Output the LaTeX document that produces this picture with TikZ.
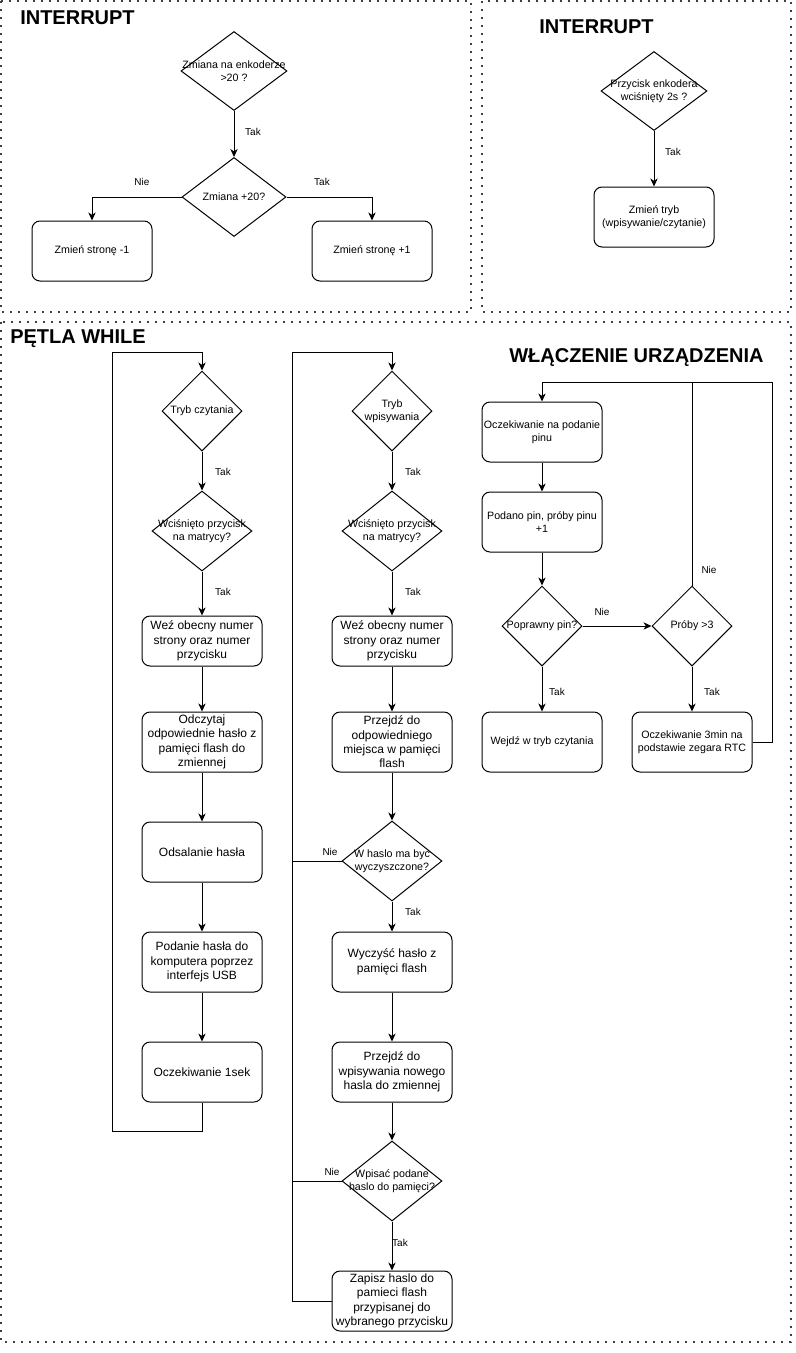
\documentclass[tikz,border=0pt]{standalone}
\usepackage{fontspec}
\setmainfont{Liberation Sans}
\usetikzlibrary{shapes.geometric,arrows.meta}
\newcommand\fsmall{\fontsize{8}{9.6}\selectfont}
\newcommand\fbig{\fontsize{9}{10.8}\selectfont}
\newcommand\flab{\fontsize{7.5}{9}\selectfont}
\newcommand\ftitle{\fontsize{15}{18}\selectfont\bfseries}
\begin{document}
\begin{tikzpicture}[x=0.75pt,y=-0.75pt,
  frame/.style={draw=black!75, line width=1.5pt, dash pattern=on 1.5pt off 4.5pt},
  box/.style={draw, line width=0.75pt, rounded corners=6pt, minimum width=90pt, minimum height=45pt, inner sep=0pt, align=center, font=\fsmall},
  bbox/.style={box, font=\fbig},
  dia/.style={draw, line width=0.75pt, diamond, inner sep=0pt},
  dtxt/.style={font=\fsmall, align=center, inner sep=0pt},
  lab/.style={font=\flab, inner sep=0pt},
  title/.style={font=\ftitle, inner sep=0pt, anchor=base west},
  arr/.style={line width=0.75pt, -{Stealth[length=6pt,width=5.5pt,inset=1.8pt]}},
  ln/.style={line width=0.75pt},
]
\useasboundingbox (0,0) rectangle (796,1353);

% frames
\draw[frame] (1,1) rectangle (471,312);
\draw[frame] (482,1) rectangle (791,312);
\draw[frame] (1,322) rectangle (791,1342);

% titles
\node[title] (t1) at (20,24) {INTERRUPT};
\node[title] (t2) at (539,33) {INTERRUPT};
\node[title] (t3) at (10,343) {PĘTLA WHILE};
\node[title] (t4) at (509,362) {WŁĄCZENIE URZĄDZENIA};

% ---- top-left interrupt
\node[dia, minimum width=79.5pt, minimum height=59.25pt] (d1) at (234,71) {};
\node[dtxt] (d1t) at (d1.center) {Zmiana na enkoderze\\>20 ?};
\node[dia, minimum width=78pt, minimum height=59.25pt] (d2) at (234,197) {};
\node[dtxt] (d2t) at (d2.center) {Zmiana +20?};
\node[box] (b1) at (92,251) {Zmień stronę -1};
\node[box] (b2) at (372,251) {Zmień stronę +1};
\draw[arr] (d1.south) -- (d2.north);
\draw[arr] (d2.west) -| (b1.north);
\draw[arr] (d2.east) -| (b2.north);
\node[lab] (l1) at (253,132) {Tak};
\node[lab] (l2) at (142,182) {Nie};
\node[lab] (l3) at (322,182) {Tak};

% ---- top-right interrupt
\node[dia, minimum width=79.5pt, minimum height=59.25pt] (d3) at (654,91) {};
\node[dtxt] (d3t) at (d3.center) {Przycisk enkodera\\wciśnięty 2s ?};
\node[box] (b3) at (654,217) {Zmień tryb\\(wpisywanie/czytanie)};
\draw[arr] (d3.south) -- (b3.north);
\node[lab] (l4) at (673,152) {Tak};

% ---- left column (reading mode)
\node[dia, minimum width=60pt, minimum height=60pt] (c1) at (202,411) {};
\node[dtxt] (c1t) at (c1.center) {Tryb czytania};
\node[dia, minimum width=75pt, minimum height=60pt] (c2) at (202,531) {};
\node[dtxt] (c2t) at (c2.center) {Wciśnięto przycisk\\na matrycy?};
\node[bbox, minimum height=37.5pt] (c3) at (202,641) {Weź obecny numer\\strony oraz numer\\przycisku};
\node[bbox] (c4) at (202,742) {Odczytaj\\odpowiednie hasło z\\pamięci flash do\\zmiennej};
\node[bbox] (c5) at (202,852) {Odsalanie hasła};
\node[bbox] (c6) at (202,962) {Podanie hasła do\\komputera poprzez\\interfejs USB};
\node[bbox] (c7) at (202,1072) {Oczekiwanie 1sek};
\coordinate (cA) at (112,1131);
\coordinate (cB) at (112,352);
\draw[arr] (c1.south) -- (c2.north);
\draw[arr] (c2.south) -- (c3.north);
\draw[arr] (c3.south) -- (c4.north);
\draw[arr] (c4.south) -- (c5.north);
\draw[arr] (c5.south) -- (c6.north);
\draw[arr] (c6.south) -- (c7.north);
\draw[arr] (c7.south) |- (cA) -- (cB) -| (c1.north);
\node[lab] (l5) at (223,472) {Tak};
\node[lab] (l6) at (223,592) {Tak};

% ---- middle column (writing mode)
\node[dia, minimum width=60pt, minimum height=60pt] (m1) at (392,411) {};
\node[dtxt] (m1t) at (m1.center) {Tryb\\wpisywania};
\node[dia, minimum width=75pt, minimum height=60pt] (m2) at (392,531) {};
\node[dtxt] (m2t) at (m2.center) {Wciśnięto przycisk\\na matrycy?};
\node[bbox, minimum height=37.5pt] (m3) at (392,641) {Weź obecny numer\\strony oraz numer\\przycisku};
\node[bbox] (m4) at (392,742) {Przejdź do\\odpowiedniego\\miejsca w pamięci\\flash};
\node[dia, minimum width=75pt, minimum height=60pt] (m5) at (392,861) {};
\node[dtxt] (m5t) at (m5.center) {W haslo ma byc\\wyczyszczone?};
\node[bbox] (m6) at (392,962) {Wyczyść hasło z\\pamięci flash};
\node[bbox] (m7) at (392,1072) {Przejdź do\\wpisywania nowego\\hasla do zmiennej};
\node[dia, minimum width=75pt, minimum height=60pt] (m8) at (392,1181) {};
\node[dtxt] (m8t) at (m8.center) {Wpisać podane\\haslo do pamięci?};
\node[bbox] (m9) at (392,1301) {Zapisz haslo do\\pamieci flash\\przypisanej do\\wybranego przycisku};
\coordinate (mA) at (292,1301);
\coordinate (mB) at (292,352);
\coordinate (mC) at (292,861);
\coordinate (mD) at (292,1181);
\draw[arr] (m1.south) -- (m2.north);
\draw[arr] (m2.south) -- (m3.north);
\draw[arr] (m3.south) -- (m4.north);
\draw[arr] (m4.south) -- (m5.north);
\draw[arr] (m5.south) -- (m6.north);
\draw[arr] (m6.south) -- (m7.north);
\draw[arr] (m7.south) -- (m8.north);
\draw[arr] (m8.south) -- (m9.north);
\draw[arr] (m9.west) -- (mA) -- (mB) -| (m1.north);
\draw[ln] (m5.west) -- (mC);
\draw[ln] (m8.west) -- (mD);
\node[lab] (l7) at (413,472) {Tak};
\node[lab] (l8) at (413,592) {Tak};
\node[lab] (l9) at (330,852) {Nie};
\node[lab] (l10) at (413,912) {Tak};
\node[lab] (l11) at (332,1172) {Nie};
\node[lab] (l12) at (400,1243) {Tak};

% ---- power on
\node[box] (r1) at (542,432) {Oczekiwanie na podanie\\pinu};
\node[box] (r2) at (542,522) {Podano pin, próby pinu\\+1};
\node[dia, minimum width=60pt, minimum height=60pt] (r3) at (542,626) {};
\node[dtxt] (r3t) at (r3.center) {Poprawny pin?};
\node[dia, minimum width=60pt, minimum height=60pt] (r4) at (692,626) {};
\node[dtxt] (r4t) at (r4.center) {Próby >3};
\node[box] (r5) at (542,742) {Wejdź w tryb czytania};
\node[box] (r6) at (692,742) {Oczekiwanie 3min na\\podstawie zegara RTC};
\coordinate (rA) at (772,742);
\coordinate (rB) at (772,382);
\coordinate (rC) at (692,382);
\draw[arr] (r1.south) -- (r2.north);
\draw[arr] (r2.south) -- (r3.north);
\draw[arr] (r3.east) -- (r4.west);
\draw[arr] (r3.south) -- (r5.north);
\draw[arr] (r4.south) -- (r6.north);
\draw[ln] (r4.north) -- (rC);
\draw[arr] (r6.east) -- (rA) -- (rB) -| (r1.north);
\node[lab] (l13) at (602,612) {Nie};
\node[lab] (l14) at (709,570) {Nie};
\node[lab] (l15) at (557,692) {Tak};
\node[lab] (l16) at (712,692) {Tak};
\end{tikzpicture}
\end{document}
